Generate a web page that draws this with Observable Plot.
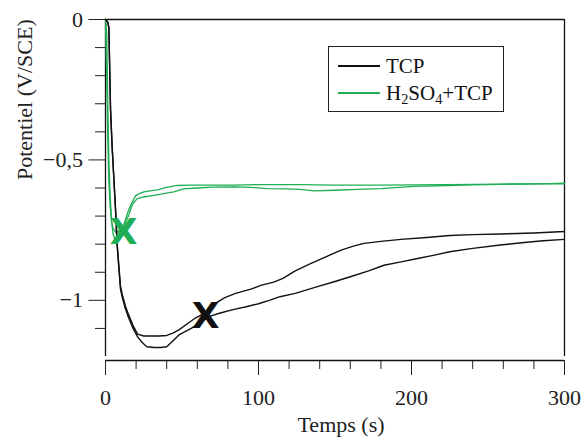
<!DOCTYPE html>
<html><head><meta charset="utf-8">
<script src="https://cdn.jsdelivr.net/npm/d3@7"></script>
<script src="https://cdn.jsdelivr.net/npm/@observablehq/plot@0.6"></script>
<style>
body{margin:0;background:#fff;}
#wrap{position:relative;width:584px;height:439px;font-family:"Liberation Serif",serif;}
#legend{position:absolute;left:328px;top:46px;width:174px;height:64px;border:1px solid #222;background:#fff;font-size:21px;color:#111;}
.row{position:absolute;left:9px;height:24px;display:flex;align-items:center;}
.sw{width:42px;height:0;border-top:2px solid;margin-right:6px;}
.lbl{display:inline-block;white-space:nowrap;}
.lbl sub{font-size:0.68em;position:relative;top:0.3em;vertical-align:baseline;line-height:0;}
</style></head>
<body><div id="wrap"></div>
<script>
// TCP, trial A (time s, potential V/SCE)
const tcpA_t = [0,1.5,2.2,3.3,4.3,5.4,6.5,7.6,8.5,9.8,11,13,15,18,21,25,30,35,40,44,48,53,59,66,72,78,85,95,102,110,116,124,134,144,154,162,169,180,193,210,225,240,258,280,300];
const tcpA_v = [0,-0.01,-0.03,-0.32,-0.45,-0.56,-0.67,-0.80,-0.86,-0.95,-0.98,-1.02,-1.05,-1.09,-1.12,-1.127,-1.127,-1.127,-1.125,-1.117,-1.105,-1.085,-1.062,-1.042,-1.01,-0.99,-0.975,-0.960,-0.946,-0.935,-0.922,-0.895,-0.869,-0.845,-0.821,-0.807,-0.797,-0.79,-0.783,-0.776,-0.769,-0.766,-0.764,-0.76,-0.755];
// TCP, trial B
const tcpB_t = [0,1.5,2.2,3.3,4.3,5.4,6.5,7.6,8.5,9.8,11,13,15,18,21,24,27,32,36,40,44,48,56,62,67.5,75,84,92,100,107,114,124,138,150,160,172,182,194,204,215,225,240,258,272,286,300];
const tcpB_v = [0,-0.01,-0.03,-0.32,-0.45,-0.56,-0.67,-0.80,-0.87,-0.96,-0.99,-1.03,-1.06,-1.10,-1.13,-1.15,-1.165,-1.168,-1.168,-1.165,-1.145,-1.123,-1.10,-1.08,-1.058,-1.045,-1.032,-1.023,-1.012,-1.0,-0.987,-0.975,-0.952,-0.933,-0.916,-0.895,-0.875,-0.862,-0.851,-0.839,-0.827,-0.815,-0.803,-0.795,-0.788,-0.783];
// H2SO4+TCP, trial 1
const acid1_t = [0,0.8,1.5,2.2,3,4,5,6,8,10,12,13.5,15,17,19.6,22,25,29,34,40,47,55,62,75,84,100,127,150,180,200,223,258,280,300];
const acid1_v = [0,-0.05,-0.3,-0.5,-0.62,-0.72,-0.765,-0.78,-0.77,-0.75,-0.73,-0.705,-0.68,-0.655,-0.628,-0.62,-0.614,-0.61,-0.607,-0.598,-0.591,-0.59,-0.59,-0.59,-0.59,-0.588,-0.588,-0.59,-0.59,-0.589,-0.588,-0.586,-0.585,-0.584];
// H2SO4+TCP, trial 2
const acid2_t = [0,0.8,1.5,2.2,3,4,5,7,10,13,15,16.5,18,20.7,25,31.6,38,44.6,51,60,70,84,95,106,118,127,136,150,165,180,201,223,240,258,280,300];
const acid2_v = [-0.02,-0.2,-0.42,-0.58,-0.66,-0.72,-0.745,-0.76,-0.745,-0.725,-0.70,-0.675,-0.655,-0.638,-0.632,-0.626,-0.62,-0.614,-0.603,-0.6,-0.597,-0.596,-0.598,-0.602,-0.603,-0.605,-0.61,-0.608,-0.605,-0.602,-0.594,-0.591,-0.589,-0.587,-0.585,-0.584];
// "X" markers (time, potential)
const markX_t = [65.4, 11.8];
const markX_v = [-1.057, -0.759];
const markX_series = ["TCP", "H2SO4+TCP"];

const xMinor = [20,40,60,80,120,140,160,180,220,240,260,280];
const xMajor = [0,100,200,300];
const yMinor = [-0.1,-0.2,-0.3,-0.4,-0.6,-0.7,-0.8,-0.9,-1.1];
const yMajor = [0,-0.5,-1];

const BLACK = "#111", GREEN = "#1fae55";
const yAxisMin = -1.2, yFrameMin = -1.2142;

const mk = (ts, vs, s) => ts.map((t,i)=>({t, v: vs[i], s}));
const dA = mk(tcpA_t, tcpA_v, "TCP");
const dB = mk(tcpB_t, tcpB_v, "TCP");
const d1 = mk(acid1_t, acid1_v, "H2SO4+TCP");
const d2 = mk(acid2_t, acid2_v, "H2SO4+TCP");
const marks = markX_t.map((t,i)=>({t, v: markX_v[i], s: markX_series[i]}));
const col = s => s === "TCP" ? BLACK : GREEN;
const fmtY = d => d === 0 ? "0" : String(d).replace("-", "\u2212").replace(".", ",");

const chart = Plot.plot({
  width: 584, height: 439,
  marginLeft: 105, marginRight: 20, marginTop: 19, marginBottom: 79,
  style: {fontFamily: "'Liberation Serif', serif", fontSize: "22px", color: "#222", background: "#fff"},
  x: {domain: [0, 300]},
  y: {domain: [yFrameMin, 0]},
  marks: [
    Plot.axisX({ticks: xMinor, tickSize: 9, tickFormat: () => "", label: null}),
    Plot.axisX({ticks: xMajor, tickSize: 15, tickPadding: 14, tickFormat: d => String(d), label: null, fontSize: 22}),
    Plot.axisY({ticks: yMinor, tickSize: 10, tickFormat: () => "", label: null}),
    Plot.axisY({ticks: yMajor, tickSize: 16.6, tickPadding: 6, tickFormat: fmtY, label: null, fontSize: 22}),
    Plot.ruleY([yFrameMin], {stroke: "#111", strokeWidth: 1.3}),
    Plot.ruleX([0], {y1: yAxisMin, y2: 0, stroke: "#111", strokeWidth: 1.3}),
    Plot.ruleX([300], {y1: yAxisMin, y2: 0, stroke: "#111", strokeWidth: 1.3}),
    Plot.ruleY([0], {stroke: "#111", strokeWidth: 1.3}),
    Plot.line(d1, {x: "t", y: "v", stroke: GREEN, strokeWidth: 1.3}),
    Plot.line(d2, {x: "t", y: "v", stroke: GREEN, strokeWidth: 1.3}),
    Plot.line(dA, {x: "t", y: "v", stroke: BLACK, strokeWidth: 1.4}),
    Plot.line(dB, {x: "t", y: "v", stroke: BLACK, strokeWidth: 1.4}),
    Plot.text(marks, {x: "t", y: "v", text: () => "X", fill: d => col(d.s), fontSize: 36, fontFamily: "DejaVu Sans", fontWeight: "bold", lineAnchor: "middle"}),
    Plot.text(["Temps (s)"], {frameAnchor: "bottom", dx: 6, dy: 71, fontSize: 22, fill: "#222"}),
    Plot.text(["Potentiel (V/SCE)"], {frameAnchor: "left", rotate: -90, dx: -81, dy: -10, fontSize: 22, fill: "#222"})
  ]
});
const wrap = document.getElementById("wrap");
wrap.appendChild(chart);
const lg = document.createElement("div");
lg.id = "legend";
lg.innerHTML = `<div class="row" style="top:7px"><div class="sw" style="border-color:${BLACK}"></div><span class="lbl">TCP</span></div>
<div class="row" style="top:34px"><div class="sw" style="border-color:${GREEN}"></div><span class="lbl">H<sub>2</sub>SO<sub>4</sub>+TCP</span></div>`;
wrap.appendChild(lg);
</script></body></html>
